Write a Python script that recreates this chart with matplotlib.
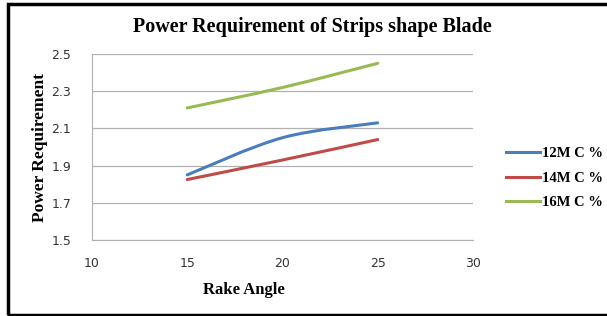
import matplotlib
matplotlib.use('Agg')
import matplotlib.pyplot as plt
from matplotlib.path import Path
from matplotlib.patches import PathPatch, Rectangle
from matplotlib.lines import Line2D

# data
rake_angle = [15, 20, 25]
mc12 = [1.85, 2.05, 2.13]
mc14 = [1.825, 1.93, 2.04]
mc16 = [2.21, 2.32, 2.45]

series = [('12M C %', mc12, '#4a7ebb'),
          ('14M C %', mc14, '#be4b48'),
          ('16M C %', mc16, '#98b954')]

serif = ['Liberation Serif', 'DejaVu Serif']


def smooth_path(xs, ys, t=1 / 6):
    # Excel-like smoothed line: cubic Bezier segments through the points
    pts = list(zip(xs, ys))
    verts = [pts[0]]
    codes = [Path.MOVETO]
    n = len(pts)
    for i in range(n - 1):
        p0 = pts[i - 1] if i > 0 else pts[i]
        p1 = pts[i]
        p2 = pts[i + 1]
        p3 = pts[i + 2] if i + 2 < n else pts[i + 1]
        c1 = (p1[0] + (p2[0] - p0[0]) * t, p1[1] + (p2[1] - p0[1]) * t)
        c2 = (p2[0] - (p3[0] - p1[0]) * t, p2[1] - (p3[1] - p1[1]) * t)
        verts += [c1, c2, p2]
        codes += [Path.CURVE4] * 3
    return Path(verts, codes)


fig = plt.figure(figsize=(6.07, 3.16), dpi=100)
ax = fig.add_axes([92 / 607, 1 - 240 / 316, 381 / 607, 186 / 316])

handles = []
for name, vals, col in series:
    ax.add_patch(PathPatch(smooth_path(rake_angle, vals), facecolor='none',
                           edgecolor=col, lw=2.2, capstyle='round'))
    handles.append(Line2D([], [], color=col, lw=2.2, label=name))

ax.set_xlim(10, 30)
ax.set_ylim(1.5, 2.5)
ax.set_xticks([10, 15, 20, 25, 30])
ax.set_yticks([1.5, 1.7, 1.9, 2.1, 2.3, 2.5])
ax.set_yticklabels(['1.5', '1.7', '1.9', '2.1', '2.3', '2.5'])
ax.yaxis.grid(True, color='#b0b0b0', lw=0.9)
ax.set_axisbelow(True)
for s in ['top', 'right']:
    ax.spines[s].set_visible(False)
ax.spines['left'].set_color('#b0b0b0')
ax.spines['bottom'].set_color('#b0b0b0')
ax.tick_params(length=0, labelsize=9, colors='#333333')
ax.tick_params(axis='x', pad=12)
ax.tick_params(axis='y', pad=15)

fig.text(244 / 607, 1 - 290 / 316, 'Rake Angle', fontfamily=serif, fontweight='bold',
         fontsize=12, ha='center', va='center')
fig.text(40 / 607, 1 - 147 / 316, 'Power Requirement', fontfamily=serif, fontweight='bold',
         fontsize=12.5, ha='center', va='center', rotation=90)
fig.text(312 / 607, 1 - 27 / 316, 'Power Requirement of Strips shape Blade',
         fontfamily=serif, fontweight='bold', fontsize=14.5, ha='center', va='center')

fig.legend(handles=handles, loc='center left', bbox_to_anchor=(493 / 607, 1 - 178 / 316),
           frameon=False, prop={'family': serif, 'weight': 'bold', 'size': 10.5},
           handlelength=2.3, handletextpad=0.15, labelspacing=0.75)

# outer border
fig.patches.append(Rectangle((8 / 607, 1 / 316), 1.2, 311 / 316, transform=fig.transFigure,
                             fill=False, edgecolor='black', lw=2.5))

fig.savefig('out.png', dpi=100)
